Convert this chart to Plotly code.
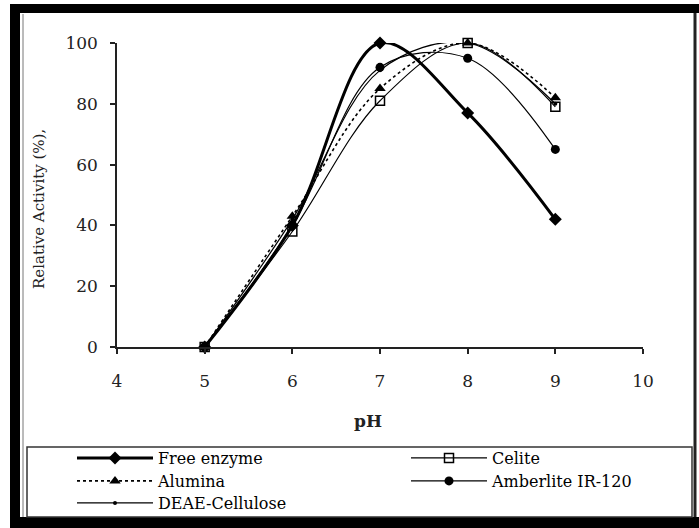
import plotly.graph_objects as go

# ---- data ----
ph = [5, 6, 7, 8, 9]
free_enzyme = [0, 40, 100, 77, 42]
celite = [0, 38, 81, 100, 79]
alumina = [0, 43, 85, 100, 82]
amberlite = [0, 40, 92, 95, 65]
deae = [0, 42, 91, 100, 80]
x_ticks = [4, 5, 6, 7, 8, 9, 10]
y_ticks = [0, 20, 40, 60, 80, 100]

W, H = 699, 528
L, R, T, B = 117, 56, 43, 181
PW, PH = W - L - R, H - T - B
FONT = "DejaVu Serif"


def xp(px):
    return (px - L) / PW


def yp(py):
    return (H - B - py) / PH


fig = go.Figure()

series = [
    ("Free enzyme", free_enzyme, dict(color="black", width=3), dict(symbol="diamond", size=10, color="black"), "legend"),
    ("Alumina", alumina, dict(color="black", width=1.6, dash="dot"), dict(symbol="triangle-up", size=10, color="black"), "legend2"),
    ("DEAE-Cellulose", deae, dict(color="black", width=1.2), dict(symbol="circle", size=4, color="black"), "legend3"),
    ("Celite", celite, dict(color="black", width=1.2), dict(symbol="square-open", size=9, color="black", line=dict(width=1.5)), "legend4"),
    ("Amberlite IR-120", amberlite, dict(color="black", width=1.2), dict(symbol="circle", size=9, color="black"), "legend5"),
]

for name, vals, line, marker, leg in series:
    line = dict(line, shape="spline", smoothing=1.0)
    fig.add_trace(go.Scatter(x=ph, y=vals, name=name, mode="lines+markers",
                             line=line, marker=marker, cliponaxis=False, legend=leg))

leg_common = dict(bgcolor="rgba(0,0,0,0)", borderwidth=0, itemwidth=76,
                  font=dict(family=FONT, size=16, color="black"),
                  xanchor="left", yanchor="middle", orientation="v")
col1_x, col2_x = xp(72), xp(406)
row_y = [yp(458), yp(481), yp(503)]

layout_legends = dict(
    legend=dict(leg_common, x=col1_x, y=row_y[0]),
    legend2=dict(leg_common, x=col1_x, y=row_y[1]),
    legend3=dict(leg_common, x=col1_x, y=row_y[2]),
    legend4=dict(leg_common, x=col2_x, y=row_y[0]),
    legend5=dict(leg_common, x=col2_x, y=row_y[1]),
)

shapes = [
    # outer black frame
    dict(type="rect", xref="paper", yref="paper", x0=xp(10), x1=xp(20), y0=yp(528), y1=yp(4),
         fillcolor="black", line=dict(width=0)),
    dict(type="rect", xref="paper", yref="paper", x0=xp(10), x1=xp(699), y0=yp(13), y1=yp(4),
         fillcolor="black", line=dict(width=0)),
    dict(type="rect", xref="paper", yref="paper", x0=xp(10), x1=xp(699), y0=yp(528), y1=yp(517),
         fillcolor="black", line=dict(width=0)),
    dict(type="line", xref="paper", yref="paper", x0=xp(695), x1=xp(695), y0=yp(517), y1=yp(13),
         line=dict(color="#222", width=3)),
    # inner thin border
    dict(type="line", xref="paper", yref="paper", x0=xp(23), x1=xp(23), y0=yp(517), y1=yp(14),
         line=dict(color="#777", width=1)),
    # legend box
    dict(type="rect", xref="paper", yref="paper", x0=xp(27), x1=xp(692), y0=yp(517), y1=yp(447),
         fillcolor="rgba(0,0,0,0)", line=dict(color="#333", width=1.5)),
]

annotations = [
    dict(text="Relative Activity (%),", xref="paper", yref="paper", x=xp(39), y=yp(209),
         textangle=-90, showarrow=False, xanchor="center", yanchor="middle",
         font=dict(family=FONT, size=15, color="#222")),
    dict(text="<b>pH</b>", xref="paper", yref="paper", x=xp(368), y=yp(421),
         showarrow=False, xanchor="center", yanchor="middle",
         font=dict(family=FONT, size=17, color="#222")),
]

fig.update_layout(
    width=W, height=H, autosize=False,
    margin=dict(l=L, r=R, t=T, b=B, pad=0, autoexpand=False),
    paper_bgcolor="white", plot_bgcolor="white",
    font=dict(family=FONT, size=16, color="#222"),
    showlegend=True,
    shapes=shapes, annotations=annotations,
    **layout_legends,
)

fig.update_xaxes(range=[4, 10], tickvals=x_ticks, ticktext=[str(v) for v in x_ticks],
                 showgrid=False, zeroline=False, showline=True, linecolor="#222", linewidth=1.5,
                 ticks="outside", ticklen=5, tickwidth=1.5, tickcolor="#222",
                 ticklabelstandoff=13,
                 tickfont=dict(family=FONT, size=17, color="#222"))
fig.update_yaxes(range=[0, 100], tickvals=y_ticks, ticktext=[str(v) for v in y_ticks],
                 showgrid=False, zeroline=False, showline=True, linecolor="#222", linewidth=1.5,
                 ticks="outside", ticklen=5, tickwidth=1.5, tickcolor="#222",
                 ticklabelstandoff=9,
                 tickfont=dict(family=FONT, size=17, color="#222"))

fig.write_html("out.html")
